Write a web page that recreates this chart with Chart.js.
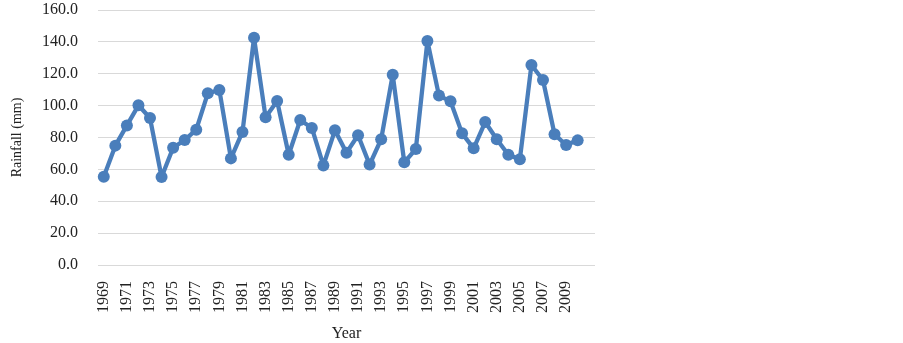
<!DOCTYPE html>
<html>
<head>
<meta charset="utf-8">
<script src="https://cdn.jsdelivr.net/npm/chart.js@4.4.1/dist/chart.umd.min.js"></script>
<style>
  html, body { margin: 0; padding: 0; background: #fff; }
  #wrap { width: 903px; height: 343px; }
</style>
</head>
<body>
<div id="wrap"><canvas id="rainChart" width="903" height="343"></canvas></div>
<script>
let years = [1969, 1970, 1971, 1972, 1973, 1974, 1975, 1976, 1977, 1978,
             1979, 1980, 1981, 1982, 1983, 1984, 1985, 1986, 1987, 1988,
             1989, 1990, 1991, 1992, 1993, 1994, 1995, 1996, 1997, 1998,
             1999, 2000, 2001, 2002, 2003, 2004, 2005, 2006, 2007, 2008,
             2009, 2010];

let rainfall = [55.4, 74.9, 87.6, 100.2, 92.2, 55.2, 73.6, 78.4, 84.9, 107.7,
                109.8, 66.9, 83.5, 142.6, 92.7, 102.9, 69.2, 91.0, 86.0, 62.5,
                84.5, 70.5, 81.4, 63.0, 78.9, 119.4, 64.4, 72.8, 140.6, 106.3,
                102.7, 82.6, 73.2, 89.7, 78.9, 69.2, 66.3, 125.5, 116.1, 82.0,
                75.3, 78.2];

let yTicks = [0, 20, 40, 60, 80, 100, 120, 140, 160];

// one empty category at the end, like the original axis
let xLabels = years.map(String).concat(['']);

let serif = 'Liberation Serif, Times New Roman, serif';
let lineColor = '#4a7ebb';

let ctx = document.getElementById('rainChart').getContext('2d');

let config = {
    type : 'line',
    data : {
        labels : xLabels,
        datasets : [{
            label : 'Rainfall',
            data : rainfall,
            borderColor : lineColor,
            backgroundColor : lineColor,
            pointBackgroundColor : lineColor,
            pointBorderColor : lineColor,
            borderWidth : 4.3,
            borderJoinStyle : 'round',
            borderCapStyle : 'round',
            pointRadius : 6,
            pointBorderWidth : 0,
            tension : 0,
            fill : false
        }]
    },
    options : {
        responsive : false,
        animation : false,
        layout : {
            padding : {left : 0, right : 308, top : 10, bottom : 0}
        },
        plugins : {
            legend : {display : false},
            tooltip : {enabled : false}
        },
        scales : {
            x : {
                offset : true,
                grid : {display : false, drawTicks : false},
                border : {display : false},
                ticks : {
                    autoSkip : false,
                    minRotation : 90,
                    maxRotation : 90,
                    padding : 16,
                    color : '#222',
                    font : {family : serif, size : 16},
                    callback : function (val, i) {
                        return i % 2 === 0 ? this.getLabelForValue(val) : '';
                    }
                },
                title : {
                    display : true,
                    text : 'Year',
                    color : '#222',
                    font : {family : serif, size : 16},
                    padding : {top : 0, bottom : 0}
                },
                afterFit : function (scale) {
                    scale.height = 78;
                    scale.paddingLeft = 0;
                    scale.paddingRight = 0;
                }
            },
            y : {
                min : 0,
                max : 160,
                afterBuildTicks : function (scale) {
                    scale.ticks = yTicks.map(v => ({value : v}));
                },
                grid : {color : '#d9d9d9', lineWidth : 1, drawTicks : false},
                border : {display : false},
                ticks : {
                    padding : 20,
                    color : '#222',
                    font : {family : serif, size : 16},
                    callback : v => v.toFixed(1)
                },
                title : {
                    display : true,
                    text : 'Rainfall (mm)',
                    color : '#222',
                    font : {family : serif, size : 14},
                    padding : {top : 9, bottom : 0}
                },
                afterFit : function (scale) {
                    scale.width = 98;
                    scale.paddingTop = 0;
                    scale.paddingBottom = 0;
                }
            }
        }
    }
};

let chart = new Chart(ctx, config);
</script>
</body>
</html>
